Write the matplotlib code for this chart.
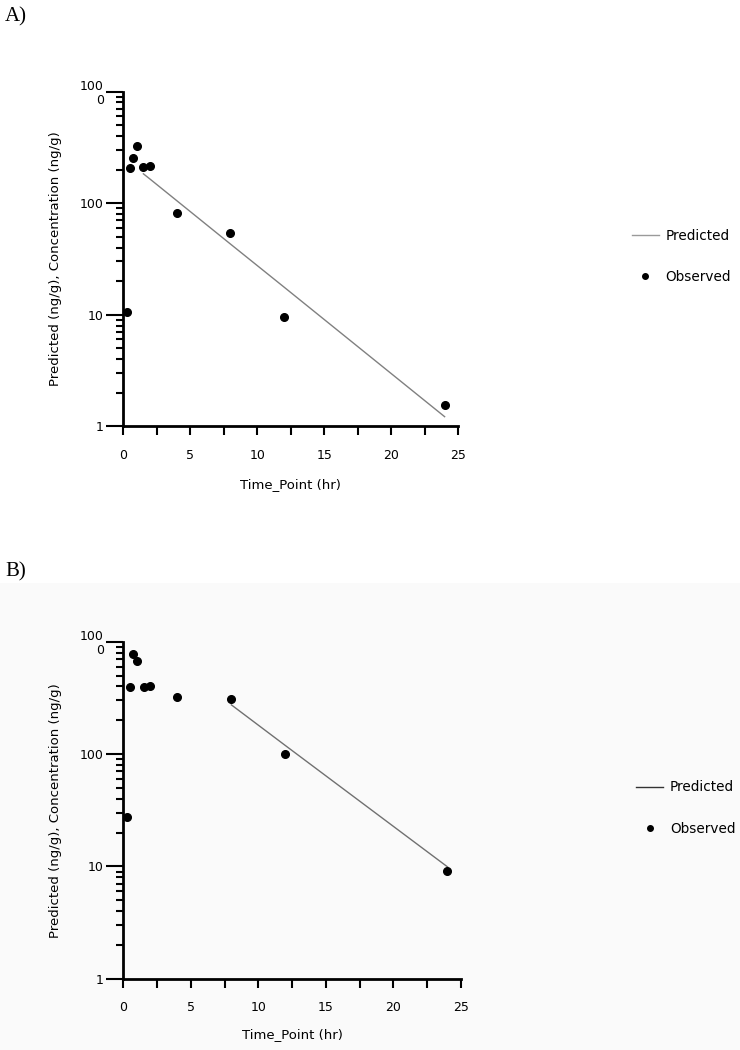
import matplotlib
matplotlib.use("Agg")
import matplotlib.pyplot as plt
from matplotlib.lines import Line2D
from matplotlib.patches import Rectangle
from matplotlib.ticker import FixedLocator, NullFormatter, LogLocator

# ---- data ----
time_obs = [0.25, 0.5, 0.75, 1, 1.5, 2, 4, 8, 12, 24]
a_obs = [10.6, 206, 255, 324, 209, 216, 81.4, 53.6, 9.56, 1.54]
a_pred_time = [1.5, 2, 4, 8, 12, 24]
a_pred = [183, 164, 105, 43, 17.7, 1.22]

b_obs = [27.7, 398, 783, 679, 393, 404, 322, 309, 100, 9.1]
b_pred_time = [8, 12, 24]
b_pred = [274, 119, 9.9]

y_ticks = [1, 10, 100, 1000]
y_tick_labels = ["1", "10", "100", "100\n0"]
x_ticks = [0, 5, 10, 15, 20, 25]
x_minor = [2.5, 7.5, 12.5, 17.5, 22.5]

ylabel = "Predicted (ng/g), Concentration (ng/g)"
xlabel = "Time_Point (hr)"

plt.rcParams['font.family'] = ['DejaVu Sans']

fig = plt.figure(figsize=(7.4, 10.5), dpi=100)
W, H = 740, 1050
bgB = '#fafafa'
fig.patches.append(Rectangle((0, 0), 1, (H - 583) / H, transform=fig.transFigure,
                             facecolor=bgB, edgecolor='none', zorder=-10))


def px_axes(left, right, top, bottom):
    return fig.add_axes([left / W, 1 - bottom / H, (right - left) / W, (bottom - top) / H])


def style(ax, facecolor):
    ax.set_facecolor(facecolor)
    ax.set_yscale('log')
    ax.set_xlim(0, 25)
    ax.set_ylim(1, 1000)
    for s in ['top', 'right']:
        ax.spines[s].set_visible(False)
    for s in ['left', 'bottom']:
        ax.spines[s].set_linewidth(2)
        ax.spines[s].set_color('black')
    ax.set_yticks(y_ticks)
    ax.set_yticklabels(y_tick_labels, fontsize=9, linespacing=1.1)
    ax.yaxis.set_minor_locator(LogLocator(base=10, subs=range(2, 10)))
    ax.yaxis.set_minor_formatter(NullFormatter())
    ax.set_xticks(x_ticks)
    ax.set_xticklabels([str(t) for t in x_ticks], fontsize=9)
    ax.xaxis.set_minor_locator(FixedLocator(x_minor))
    ax.tick_params(axis='y', which='major', length=12, width=1.5, pad=2)
    ax.tick_params(axis='y', which='minor', length=5, width=1.5)
    ax.tick_params(axis='x', which='both', length=6.3, width=1.5, pad=10)
    ax.set_ylabel(ylabel, fontsize=9.5)
    ax.set_xlabel(xlabel, fontsize=9.5)


# ---- panel A ----
axA = px_axes(123.3, 458, 91.5, 426.3)
style(axA, 'white')
axA.plot(a_pred_time, a_pred, color='#808080', lw=1.0, clip_on=False)
axA.plot(time_obs, a_obs, linestyle='none', marker='o', markersize=5.5,
         markerfacecolor='black', markeredgecolor='black', clip_on=False)
axA.yaxis.set_label_coords(-0.183, 0.5)
axA.xaxis.set_label_coords(0.5, -0.154)

handlesA = [Line2D([], [], color='#9a9a9a', lw=1.0),
            Line2D([], [], linestyle='none', marker='o', markersize=4, color='black')]
fig.legend(handlesA, ['Predicted', 'Observed'], loc='center left',
           bbox_to_anchor=(632 / W, 1 - 256.5 / H), bbox_transform=fig.transFigure,
           frameon=False, borderpad=0, borderaxespad=0, handlelength=1.95,
           handletextpad=0.5, labelspacing=2.0, fontsize=9.8)

fig.text(5 / W, 1 - 17 / H, 'A)', family='Liberation Serif', fontsize=15, va='center', ha='left')

# ---- panel B ----
axB = px_axes(123.3, 461, 641.7, 978.7)
style(axB, bgB)
axB.plot(b_pred_time, b_pred, color='#707070', lw=1.0, clip_on=False)
axB.plot(time_obs, b_obs, linestyle='none', marker='o', markersize=5.5,
         markerfacecolor='black', markeredgecolor='black', clip_on=False)
axB.yaxis.set_label_coords(-0.183, 0.5)
axB.xaxis.set_label_coords(0.5, -0.146)

handlesB = [Line2D([], [], color='#333333', lw=1.0),
            Line2D([], [], linestyle='none', marker='o', markersize=4, color='black')]
fig.legend(handlesB, ['Predicted', 'Observed'], loc='center left',
           bbox_to_anchor=(636 / W, 1 - 808 / H), bbox_transform=fig.transFigure,
           frameon=False, borderpad=0, borderaxespad=0, handlelength=2.0,
           handletextpad=0.5, labelspacing=2.0, fontsize=9.8)

fig.text(5 / W, 1 - 572 / H, 'B)', family='Liberation Serif', fontsize=15, va='center', ha='left')

fig.savefig('out.png', dpi=100)
